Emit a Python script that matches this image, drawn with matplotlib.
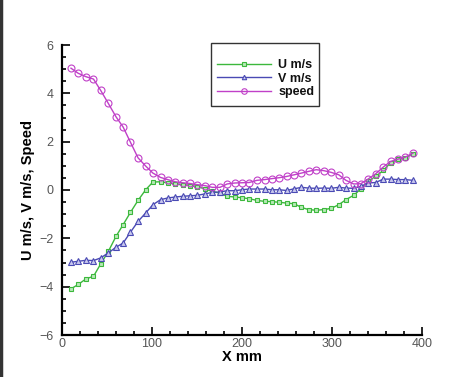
import matplotlib
matplotlib.use("Agg")
import matplotlib.pyplot as plt
from matplotlib.lines import Line2D
from matplotlib.patches import Rectangle
from matplotlib.ticker import MultipleLocator

plt.rcParams['font.family'] = ['Liberation Sans', 'DejaVu Sans']

# x positions of the samples (mm)
x_mm = [10, 18, 26.5, 35, 43, 51.5, 60, 68, 76, 84.5, 93, 101, 109.5, 117.5,
        126, 134, 142, 150.5, 159, 167, 175.5, 183.5, 192, 200, 208, 216.5,
        225, 233, 241.5, 249.5, 258, 266, 274, 282.5, 291, 299, 307.5, 315.5,
        324, 332, 340, 348.5, 357, 365, 373.5, 381.5, 390]

u_ms = [-4.09, -3.91, -3.68, -3.57, -3.06, -2.54, -1.92, -1.43, -0.93, -0.43,
        0.01, 0.33, 0.34, 0.29, 0.25, 0.21, 0.18, 0.14, 0.04, -0.06, -0.13,
        -0.26, -0.29, -0.32, -0.36, -0.43, -0.47, -0.48, -0.51, -0.54, -0.57,
        -0.72, -0.81, -0.84, -0.81, -0.76, -0.61, -0.40, -0.22, 0.04, 0.36,
        0.56, 0.81, 1.12, 1.28, 1.32, 1.50]

v_ms = [-2.99, -2.95, -2.91, -2.92, -2.81, -2.60, -2.37, -2.19, -1.75, -1.30,
        -0.95, -0.61, -0.40, -0.33, -0.29, -0.26, -0.24, -0.22, -0.16, -0.10,
        -0.08, -0.03, -0.03, 0.01, 0.04, 0.04, 0.04, 0.01, 0.01, -0.02, 0.05,
        0.11, 0.08, 0.07, 0.08, 0.07, 0.11, 0.08, 0.07, 0.15, 0.29, 0.31,
        0.45, 0.45, 0.43, 0.43, 0.40]

speed = [5.04, 4.83, 4.69, 4.59, 4.12, 3.58, 3.03, 2.60, 1.98, 1.33, 0.99,
         0.70, 0.52, 0.43, 0.34, 0.30, 0.27, 0.22, 0.18, 0.11, 0.11, 0.25,
         0.29, 0.30, 0.31, 0.40, 0.43, 0.47, 0.51, 0.56, 0.63, 0.70, 0.77,
         0.84, 0.80, 0.73, 0.63, 0.40, 0.25, 0.26, 0.45, 0.67, 0.95, 1.18,
         1.28, 1.36, 1.53]

green = '#3cb83c'
blue = '#4a4ab4'
magenta = '#c040c8'

W, H = 477, 377
fig = plt.figure(figsize=(W / 100, H / 100), dpi=100)
ax = fig.add_axes([62 / W, 1 - 335 / H, 360 / W, 290 / H])

ax.plot(x_mm, u_ms, color=green, lw=1, marker='s', ms=3.5, mfc='#b8e8b8',
        mec=green, mew=0.8, label='U m/s')
ax.plot(x_mm, v_ms, color=blue, lw=1, marker='^', ms=4, mfc='#c8c8ee',
        mec=blue, mew=0.8, label='V m/s')
ax.plot(x_mm, speed, color=magenta, lw=1, marker='o', ms=5, mfc='none',
        mec=magenta, mew=0.8, label='speed')

ax.set_xlim(0, 400)
ax.set_ylim(-6, 6)
ax.xaxis.set_major_locator(MultipleLocator(100))
ax.xaxis.set_minor_locator(MultipleLocator(20))
ax.yaxis.set_major_locator(MultipleLocator(2))
ax.yaxis.set_minor_locator(MultipleLocator(0.5))
ax.tick_params(which='both', direction='in', width=1.2, colors='black',
               labelcolor='#555555', labelsize=9)
ax.tick_params(which='major', length=6)
ax.tick_params(which='minor', length=3)
ax.tick_params(axis='y', pad=6)
ax.tick_params(axis='x', pad=2)

for s in ['top', 'right']:
    ax.spines[s].set_visible(False)
for s in ['left', 'bottom']:
    ax.spines[s].set_linewidth(1.6)

ax.set_xlabel('X mm', fontsize=10.5, fontweight='bold', labelpad=0)
ax.set_ylabel('U m/s, V m/s, Speed', fontsize=10.5, fontweight='bold',
              labelpad=3)

# legend entries without frame, box drawn separately
leg = fig.legend(*ax.get_legend_handles_labels(), loc='upper left',
                 bbox_to_anchor=(217 / W, 1 - 59 / H), fontsize=9,
                 frameon=False, borderpad=0, borderaxespad=0,
                 handlelength=4.3, handletextpad=0.6, labelspacing=0.12,
                 numpoints=1, markerscale=0.8)
for t in leg.get_texts():
    t.set_fontweight('bold')
    t.set_color('#111111')

fig.add_artist(Rectangle((211 / W, 1 - 106 / H), 108 / W, 63 / H,
                         transform=fig.transFigure, fill=False,
                         edgecolor='#333333', lw=1.0))

# dark strip along the left edge of the picture
fig.add_artist(Line2D([0.002, 0.002], [0, 1], color='#333333', lw=2.5,
                      transform=fig.transFigure))

fig.savefig('out.png', dpi=100)
